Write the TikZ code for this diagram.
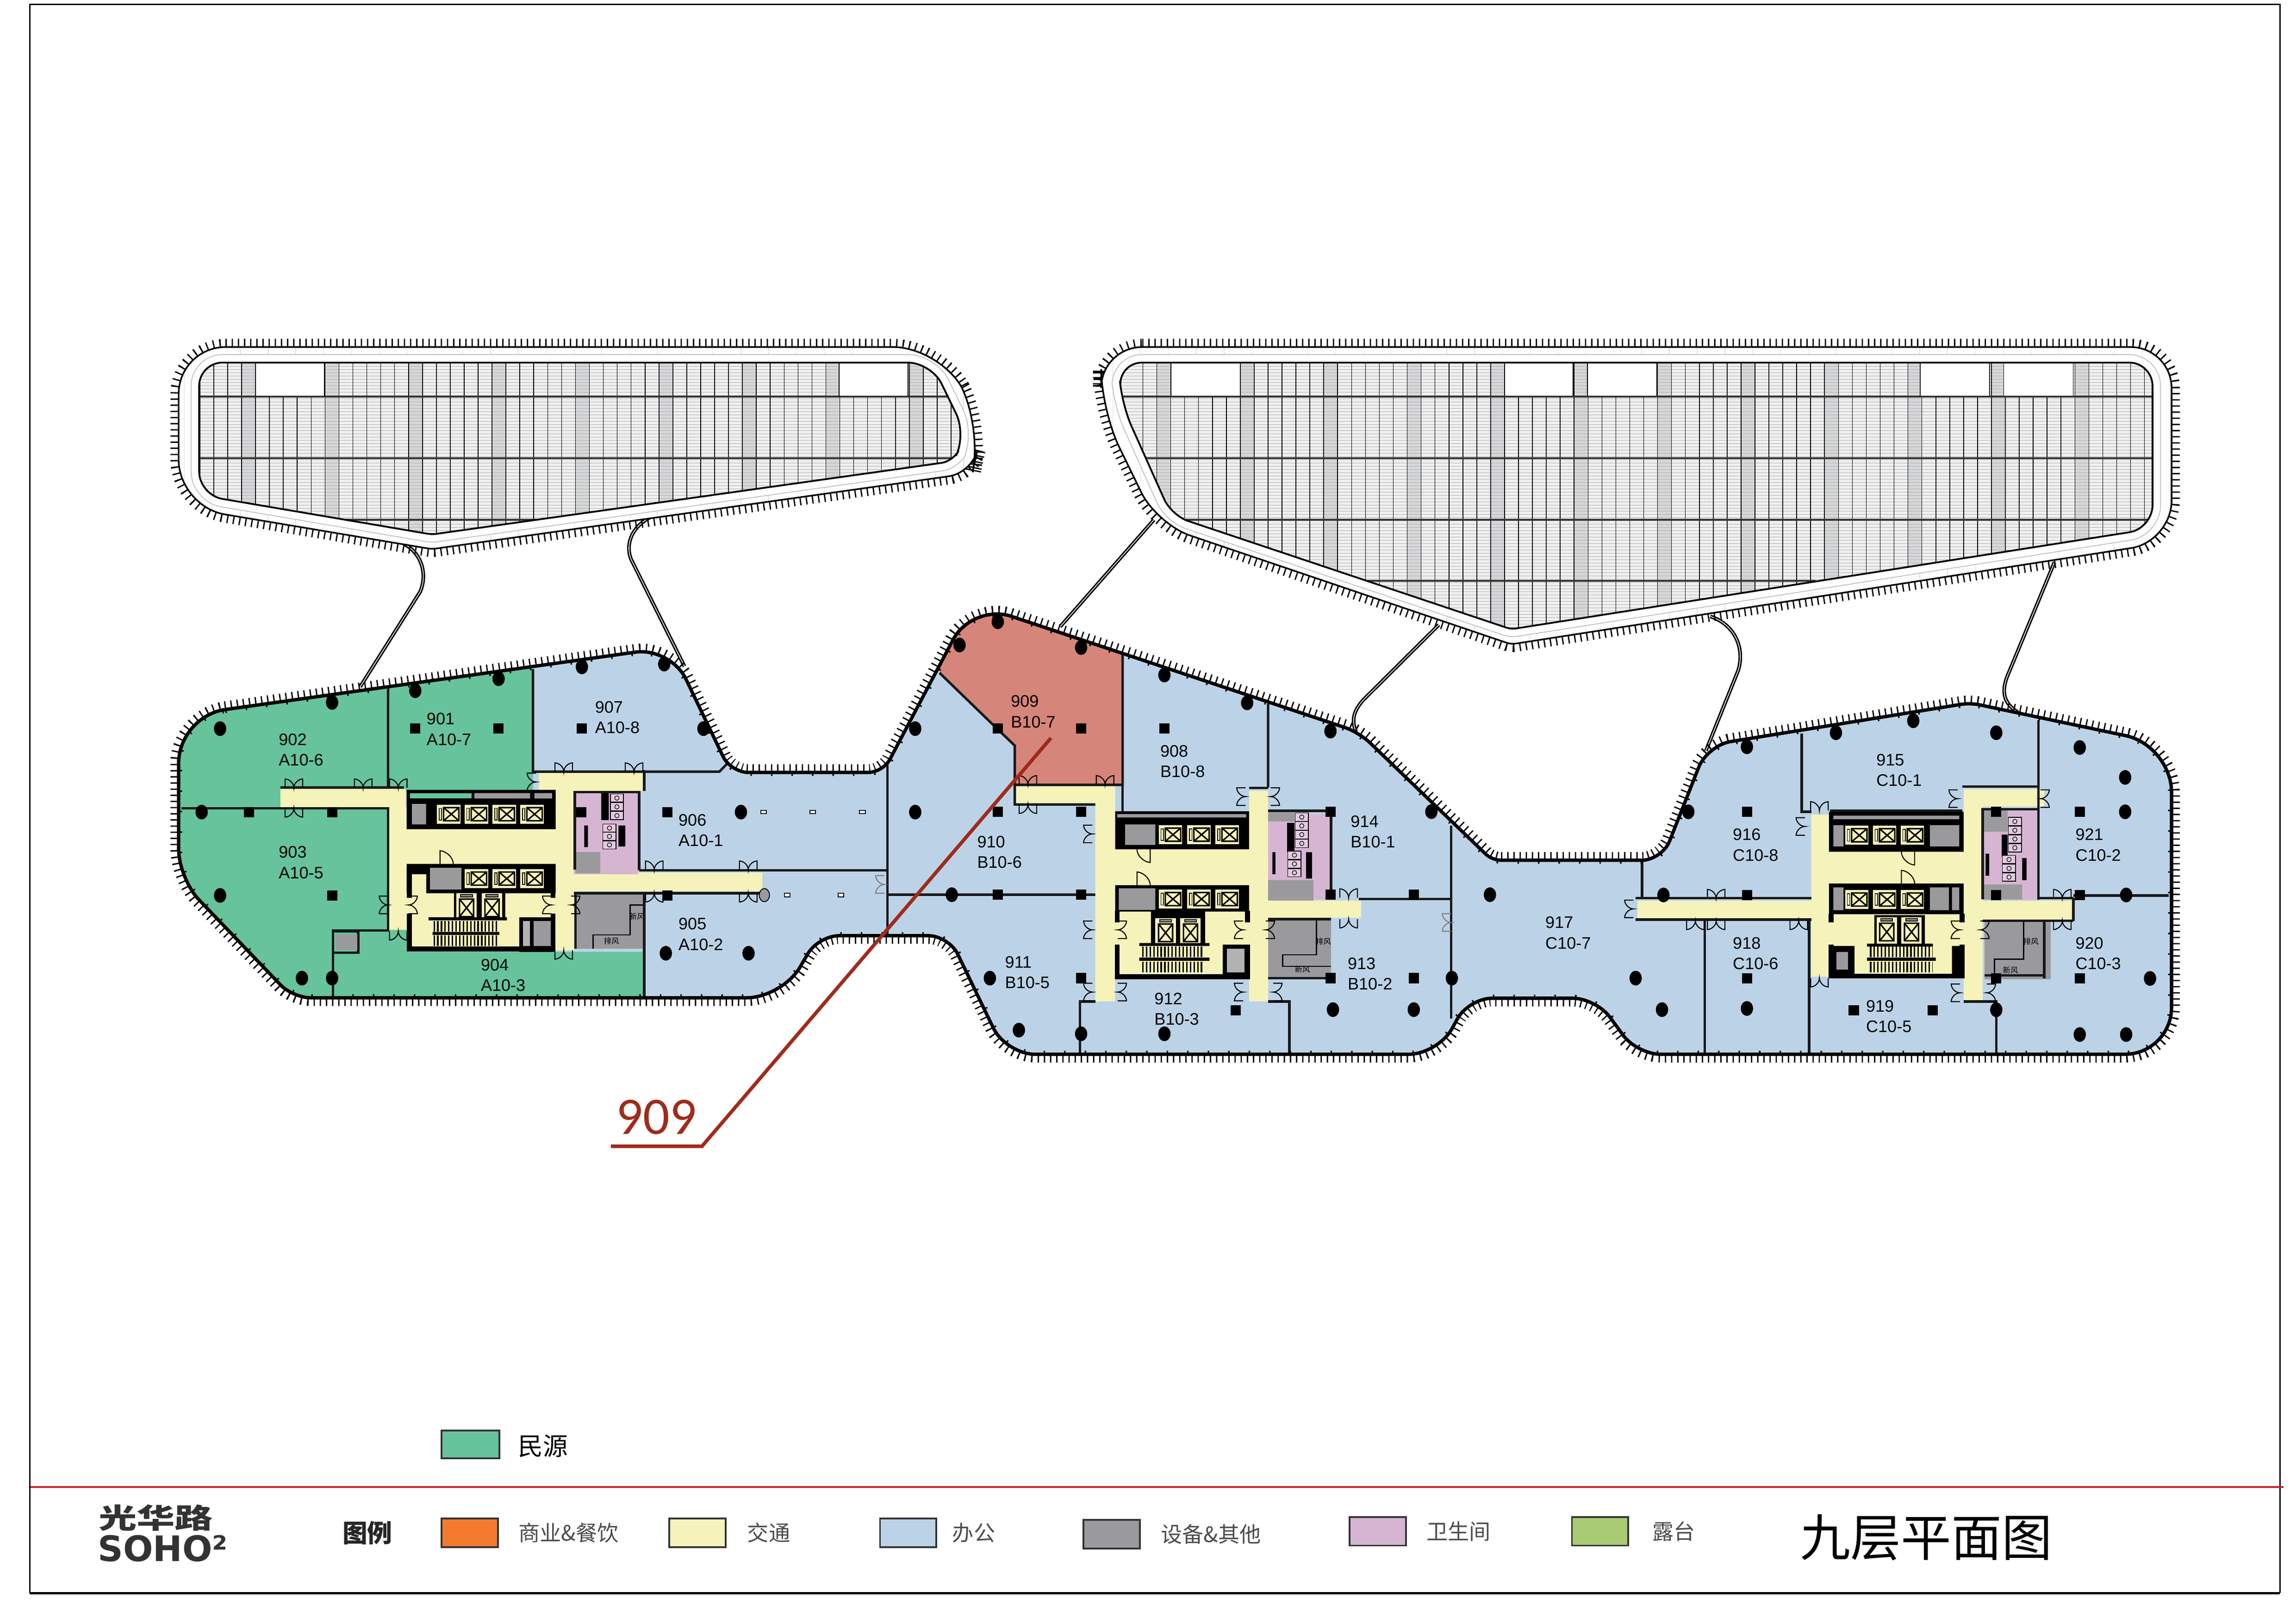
\documentclass[tikz,border=0pt]{standalone}
\usepackage{fontspec}
\setmainfont{Liberation Sans}
\newfontfamily\cjk{Noto Sans CJK SC}
\newfontfamily\leaderfont{Carlito}
\newfontfamily\logofont{DejaVu Sans}

\definecolor{officeblue}{HTML}{BCD3E7}
\definecolor{tenantgreen}{HTML}{66C39B}
\definecolor{soldred}{HTML}{D6857A}
\definecolor{transityellow}{HTML}{F5F3BA}
\definecolor{wcpurple}{HTML}{D6B5D3}
\definecolor{servicegray}{HTML}{9A9A9D}
\definecolor{shopgreen}{HTML}{A9CB74}
\definecolor{shoporange}{HTML}{F47B2E}
\definecolor{leaderred}{HTML}{A02B1A}
\definecolor{rulered}{HTML}{C8202F}
\definecolor{stripgray}{HTML}{D6D7D9}
\definecolor{hatchgray}{HTML}{F0F0F0}

% Outline of the three joined wings
\newcommand{\planoutline}{[rounded corners=16pt] (122,489) [rounded corners=12pt] -- (458,442) [rounded corners=6pt] -- (499,527.5) [rounded corners=5pt] -- (603,527.5) [rounded corners=14pt] -- (664,412) [rounded corners=5pt] -- (928,500) [rounded corners=3pt] -- (1019,587.5) [rounded corners=7pt] -- (1135,587.5) [rounded corners=8pt] -- (1166,509) [rounded corners=3pt] -- (1345.5,480) [rounded corners=16pt] -- (1483,509) -- (1483,720) [rounded corners=8pt] -- (1118,720) -- (1090,681.7) -- (1003,681.7) [rounded corners=10pt] -- (982,720) -- (687,720) [rounded corners=7pt] -- (648,639) -- (559,639) [rounded corners=12pt] -- (534,681.4) [rounded corners=6pt] -- (200,681.4) [rounded corners=10pt] -- (122,600) [rounded corners=16pt] -- cycle}
% Roof decks
\newcommand{\deckwestouter}{[rounded corners=16pt] (122,237) -- (642,237) -- (671,291) [rounded corners=8pt] -- (664,323) [rounded corners=1.5pt] -- (295,375) [rounded corners=16pt] -- (122,346) -- cycle}
\newcommand{\deckwestinner}{[rounded corners=8pt] (136,247.6) -- (636,247.6) -- (660,297) [rounded corners=4pt] -- (651,315) [rounded corners=1.5pt] -- (295,365) [rounded corners=8pt] -- (136,338) -- cycle}
\newcommand{\deckeastouter}{[rounded corners=14pt] (752,237) -- (1483,237) -- (1483,370) [rounded corners=1.5pt] -- (1032,440) [rounded corners=12pt] -- (790,358) [rounded corners=14pt] -- (752,280) -- cycle}
\newcommand{\deckeastinner}{[rounded corners=8pt] (764,247.6) -- (1470,247.6) -- (1470,361) [rounded corners=1.5pt] -- (1032,429.7) [rounded corners=6pt] -- (800,352) [rounded corners=8pt] -- (766,276) -- cycle}

\tikzset{
    eaveticks/.style={line width=5.6pt, dash pattern=on .45pt off 1.65pt},
    eavemarks/.style={line width=2.4pt, dash pattern=on .5pt off 6.5pt},
    roomwall/.style={line width=.85pt, black!90},
    corewall/.style={line width=1.7pt},
    bridge/.style={line width=.5pt, double=white, double distance=.25pt},
    stairhatch/.style={line width=3.6pt, dash pattern=on .5pt off .75pt},
    leader/.style={leaderred, line width=1.2pt},
    roomtag/.style={anchor=west, align=left, inner sep=0pt, font=\fontsize{5.7}{7}\selectfont},
    legendtext/.style={anchor=west, inner sep=0pt, text=black!70, font=\cjk\fontsize{7.3}{9}\selectfont},
    tinytag/.style={inner sep=0pt, font=\cjk\fontsize{2.6}{3}\selectfont},
    swatch/.style={draw=black!80, line width=.6pt},
    liftcar/.pic={
        \fill[transityellow] (-8,-6.5) rectangle (8,6.5);
        \draw[line width=.5pt] (-3.5,-4.5) rectangle (7,4.5) (-3.5,-4.5) -- (7,4.5) (-3.5,4.5) -- (7,-4.5);
        \draw[line width=.25pt] (-6.5,-4) rectangle (-4.8,4);
    },
    freightcar/.pic={
        \fill[transityellow] (-7,-9) rectangle (7,9);
        \draw[line width=.5pt] (-4.8,-5) rectangle (4.8,7) (-4.8,-5) -- (4.8,7) (-4.8,7) -- (4.8,-5);
        \draw[line width=.3pt, fill=servicegray] (-4,-8) rectangle (4,-6.5);
    },
    wcstall/.pic={
        \draw[line width=.25pt, fill=wcpurple!70] (-4.5,-2.8) rectangle (4.5,2.8);
        \draw[line width=.2pt] (0,0) circle (1.5);
    },
    twindoor/.pic={
        \draw[line width=.35pt] (-6,0) -- (-6,-6) .. controls (-3,-6) and (0,-3) .. (0,0) .. controls (0,-3) and (3,-6) .. (6,-6) -- (6,0);
    },
    onedoor/.pic={
        \draw[line width=.35pt] (-4.5,0) -- (-4.5,-9) .. controls (-1,-9) and (4.5,-5) .. (4.5,0);
    },
}

\begin{document}
\begin{tikzpicture}[x=.5pt, y=-.5pt]
    \useasboundingbox (0,0) rectangle (1568,1108.8);

    % Frame and rule
    \draw[line width=.5pt] (1557,1088) -- (1557,3) -- (20.3,3) -- (20.3,1088);
    \draw[line width=.8pt] (20.3,1088) -- (1557,1088);
    \draw[rulered, line width=.5pt] (21,1015.5) -- (1559.5,1015.5);

    % Bridges from the decks down to the wings
    \draw[bridge] (276,371.5) .. controls (288,378) and (292,392) .. (287,404) -- (246,469);
    \draw[bridge] (444.5,353) .. controls (431,360) and (427,372) .. (431,382) -- (467.4,455);
    \draw[bridge] (788,355) -- (724,428);
    \draw[bridge] (982.6,426.7) -- (931,478) .. controls (924,486) and (923,492) .. (926,499.7);
    \draw[bridge] (1168,421) .. controls (1184,426) and (1192,442) .. (1187,458) -- (1165,512.7);
    \draw[bridge] (1403,384) -- (1372.3,458.3) .. controls (1366,472) and (1368,480) .. (1378,486.4);

    % West deck
    \draw[eaveticks] \deckwestouter;
    \fill[white] \deckwestouter;
    \begin{scope}
        \clip \deckwestouter;
        \foreach \x in {126,145,...,670}
            \draw[black!12, line width=.2pt] (\x,230) -- (\x,380);
    \end{scope}
    \draw[line width=.55pt] \deckwestouter;
    \draw[black!22, line width=5.8pt] \deckwestinner;
    \draw[white, line width=5.1pt] \deckwestinner;
    \begin{scope}
        \clip \deckwestinner;
        \fill[hatchgray] (130,240) rectangle (665,370);
        \foreach \x in {165,222,...,621}
            \fill[stripgray] (\x,240) rectangle (\x+9.5,370);
        \foreach \y in {248,250.2,...,368}
            \draw[black!32, line width=.12pt] (130,\y) -- (665,\y);
        \foreach \x in {136.5,146,...,660}
            \draw[line width=.25pt] (\x,240) -- (\x,370);
        \fill[white] (174.5,240) rectangle (221.6,270.9) (572.9,240) rectangle (620,270.9);
        \draw[black!80, line width=.65pt] (130,270.9) -- (665,270.9) (130,313) -- (665,313) (234,354.8) -- (368,354.8);
        \draw[line width=.3pt] (174.5,240) -- (174.5,270.9) (221.6,240) -- (221.6,270.9) (572.9,240) -- (572.9,270.9) (620,240) -- (620,270.9);
    \end{scope}
    \draw[line width=.6pt] \deckwestinner;

    % East deck
    \draw[eaveticks] \deckeastouter;
    \fill[white] \deckeastouter;
    \begin{scope}
        \clip \deckeastouter;
        \foreach \x in {760,779,...,1480}
            \draw[black!12, line width=.2pt] (\x,230) -- (\x,445);
    \end{scope}
    \draw[line width=.55pt] \deckeastouter;
    \draw[black!22, line width=5.8pt] \deckeastinner;
    \draw[white, line width=5.1pt] \deckeastinner;
    \begin{scope}
        \clip \deckeastinner;
        \fill[hatchgray] (760,240) rectangle (1475,435);
        \foreach \x in {790,847,...,1417}
            \fill[stripgray] (\x,240) rectangle (\x+9.5,435);
        \foreach \y in {248,250.2,...,432}
            \draw[black!32, line width=.12pt] (760,\y) -- (1475,\y);
        \foreach \x in {780.5,790,...,1470}
            \draw[line width=.25pt] (\x,240) -- (\x,435);
        \foreach \x/\w in {799.6/847, 1027.4/1074.4, 1084/1131.4, 1311.3/1358.8, 1368.4/1415.8} {
            \fill[white] (\x,240) rectangle (\w,270.9);
            \draw[line width=.3pt] (\x,240) -- (\x,270.9) (\w,240) -- (\w,270.9);
        }
        \draw[black!80, line width=.65pt] (760,270.9) -- (1475,270.9) (760,313) -- (1475,313) (760,354.8) -- (1475,354.8) (932,396.6) -- (1240,396.6);
    \end{scope}
    \draw[line width=.6pt] \deckeastinner;

    % Floor fill with let areas
    \draw[eaveticks] \planoutline;
    \fill[officeblue] \planoutline;
    \begin{scope}
        \clip \planoutline;
        \fill[tenantgreen] (100,430) rectangle (364,540) (100,540) rectangle (265,690) (227,635) rectangle (279,690) (227,650) rectangle (440,690);
        \fill[soldred] (641.6,459.5) -- (677.6,494.4) -- (693,509.2) -- (693,536) -- (766.7,536) -- (766.7,400) -- (620,400) -- cycle;
    \end{scope}

    % Corridors and lobbies
    \fill[transityellow] (191.5,538.7) rectangle (277,551.2) (265,551) rectangle (279,635) (277,565.5) rectangle (392,590.4) (378,540) rectangle (392,649) (368,527) rectangle (440,540) (392,596) rectangle (520.5,608.6) (279,590) rectangle (378,648);
    \fill[transityellow] (693,536.8) rectangle (761.6,549.4) (748,537) rectangle (761.6,683.8) (853,540) rectangle (866,683.8) (761.6,580) rectangle (866,604.5) (761.6,622) rectangle (853,665) (866,615) rectangle (929.5,626.7);
    \fill[transityellow] (1118.3,615.2) rectangle (1237,628.8) (1237,556.3) rectangle (1249,667) (1249,581.7) rectangle (1341,603.4) (1341,539) rectangle (1354,684) (1341,539) rectangle (1396,550.8) (1354,615.2) rectangle (1416,628.8) (1249,624) rectangle (1341,665);

    % Core A
    \fill (277.7,539.4) rectangle (379.5,566.3) (277.7,590) rectangle (379.5,610) (310,610) rectangle (345,627);
    \fill[tenantgreen] (280,541.6) rectangle (322,545.3);
    \fill[servicegray] (324,541.6) rectangle (362,545.3) (365,541.6) rectangle (377,545.3) (281.3,549) rectangle (291,563);
    \fill[servicegray] (293.5,592.7) rectangle (315,607.4);
    \fill[transityellow] (281.3,597) rectangle (291,610.5);
    \foreach \x in {306.4,325.3,344.3,363.3}
        \pic at (\x,556) {liftcar};
    \foreach \x in {325.3,344.3,363.3}
        \pic at (\x,600) {liftcar};
    \foreach \x in {318.6,336}
        \pic at (\x,619) {freightcar};
    \draw[corewall] (279.5,608) -- (279.5,613) (279.5,624) -- (279.5,648) -- (377.7,648) -- (377.7,624) (377.7,608) -- (377.7,613);
    \fill (292.6,626.4) rectangle (346.2,628.5) (295.4,636.4) rectangle (341,638.5);
    \draw[stairhatch] (296,632.5) -- (341,632.5) (296,642.3) -- (340,642.3);
    \fill (354.7,626.4) rectangle (378.4,650);
    \fill[servicegray] (364.3,629) rectangle (376,646);
    \fill[black!30] (357,629) rectangle (362,646);
    % Toilets and plant A
    \fill[wcpurple] (392,541.6) rectangle (436,597);
    \fill[servicegray] (393,582) rectangle (410,596.4);
    \fill (410.6,541.6) rectangle (415.7,560) (422.4,563.7) rectangle (427,578) (399,563.7) rectangle (401.5,578.5);
    \foreach \y in {545,551,557} \pic at (421.3,\y) {wcstall};
    \foreach \y in {565.5,571.2,577} \pic at (416.2,\y) {wcstall};
    \draw[roomwall] (392.5,594) -- (392.5,541) -- (436.5,541) -- (436.5,594.3);
    \fill[servicegray] (393,610) rectangle (439.4,648);
    \draw[roomwall] (393,648) -- (393,610) -- (440,610);
    \draw[line width=.4pt] (405,648) -- (405,638.5) -- (430.3,638.5) -- (430.3,618) -- (439.4,618);
    \node[tinytag] (freshA) at (435,626) {新风};
    \node[tinytag] (exhaustA) at (417.6,642.5) {排风};

    % Core B
    \fill (761.6,554) rectangle (853,580) (761.6,604.5) rectangle (853,622.5) (786,622) rectangle (823,645);
    \fill[servicegray] (763,556) rectangle (851,558.3) (768.4,563) rectangle (789,577) (764,606.6) rectangle (789,621.4);
    \foreach \x in {799.3,818.8,838} {
        \pic at (\x,570) {liftcar};
        \pic at (\x,614) {liftcar};
    }
    \foreach \x in {796,813}
        \pic at (\x,636) {freightcar};
    \draw[corewall] (763,622) -- (763,630) (763,645) -- (763,667) -- (852,667) -- (852,645) (852,622) -- (852,630);
    \fill (778,644) rectangle (826,646) (778,654) rectangle (826,656.2);
    \draw[stairhatch] (780,650) -- (822,650) (780,660.5) -- (822,660.5);
    \fill (835,645) rectangle (853,667);
    \fill[black!30] (838,648) rectangle (850,664);
    % Toilets and plant B
    \fill[wcpurple] (866,556) rectangle (909,614);
    \fill[servicegray] (866,555) rectangle (884,561) (866,601) rectangle (897,615);
    \fill (879,562) rectangle (884,582) (892,582) rectangle (896,600) (869,582) rectangle (871,597);
    \foreach \y in {558,564,570,576} \pic at (889,\y) {wcstall};
    \foreach \y in {584,590,596} \pic at (884,\y) {wcstall};
    \draw[roomwall] (866,553.7) -- (909,553.7) -- (909,614);
    \fill[servicegray] (866,627.7) rectangle (909,668);
    \draw[roomwall] (866,627.7) -- (909,627.7) (866,668) -- (909,668);
    \draw[line width=.4pt] (909,660) -- (876,660) -- (876,652) -- (899,652) -- (899,627.7);
    \node[tinytag] (exhaustB) at (903.8,643) {排风};
    \node[tinytag] (freshB) at (889.4,662) {新风};

    % Core C
    \fill (1249,554.4) rectangle (1341,581.7) (1249,603.4) rectangle (1341,624.3) (1280,625) rectangle (1314.5,645);
    \fill[servicegray] (1252,557) rectangle (1338,559.5) (1318,563.5) rectangle (1338,578) (1252,563.5) rectangle (1259,578) (1318,606) rectangle (1331,621.6) (1333,606) rectangle (1338,621.6) (1252,606) rectangle (1259,621.6);
    \foreach \x in {1268,1287,1306} {
        \pic at (\x,570.4) {liftcar};
        \pic at (\x,614.3) {liftcar};
    }
    \foreach \x in {1288.5,1305.4}
        \pic at (\x,635.5) {freightcar};
    \draw[corewall] (1250.5,624) -- (1250.5,630) (1250.5,645) -- (1250.5,666.6) -- (1340,666.6) -- (1340,645) (1340,624) -- (1340,630);
    \fill (1275,644.5) rectangle (1320,646.5) (1275,654) rectangle (1322,656.2);
    \draw[stairhatch] (1277,650) -- (1320,650) (1277,660.5) -- (1320,660.5);
    \fill (1251,646) rectangle (1266.5,665) (1333,646) rectangle (1340,665);
    \fill[servicegray] (1254,650) rectangle (1262,662);
    % Toilets and plant C
    \fill[wcpurple] (1354,552.6) rectangle (1392,614.3);
    \fill[servicegray] (1354,552.6) rectangle (1371,568) (1354,604) rectangle (1381,614.3);
    \fill (1367,570) rectangle (1371,585) (1381,586) rectangle (1384,601) (1356,583) rectangle (1358.5,598);
    \foreach \y in {561,567,573,579} \pic at (1376,\y) {wcstall};
    \foreach \y in {587,593,599} \pic at (1372,\y) {wcstall};
    \draw[roomwall] (1354,614) -- (1354,552.6) -- (1392,552.6);
    \fill[servicegray] (1355.4,628.8) rectangle (1400.6,668.7);
    \draw[roomwall] (1355.4,628.8) -- (1396,628.8) (1396,628.8) -- (1396,668) (1355.4,666) -- (1396,666);
    \draw[line width=.4pt] (1362,666) -- (1362,655) -- (1382,655) -- (1382,628.8);
    \node[tinytag] (exhaustC) at (1387,643) {排风};
    \node[tinytag] (freshC) at (1373,662.4) {新风};

    % Partitions, wing A
    \draw[roomwall] (265,470.7) -- (265,537.8) (191.5,537.8) -- (275.8,537.8) (364,457) -- (364,527) -- (491.3,527) -- (496.6,521.5);
    \draw[roomwall] (124,552) -- (265,552) -- (265,635.4) -- (227.4,635.4) -- (227.4,681) (227.4,636) rectangle (244.6,650.7);
    \fill[servicegray] (229,638) rectangle (244,649);
    \draw[roomwall] (440,610.5) -- (440,681.4) (440,594.3) -- (606,594.3) (606,522) -- (606,639) (440,526) -- (440,540) (436.5,594.3) -- (440,594.3) (392,610) -- (520,610);
    % Partitions, wing B
    \draw[roomwall] (606,611) -- (748,611) (641.6,459.5) -- (677.6,494.4) -- (693,509.2) -- (693,549.4) -- (748,549.4) (693,536) -- (766.7,536) -- (766.7,447) (866,480.7) -- (866,537.8);
    \draw[roomwall] (748,684) -- (737.6,684) -- (737.6,720) (866,684) -- (880.5,684) -- (880.5,720) (928,614) -- (991,614) (991,564) -- (991,695.5) (1121.4,588.6) -- (1121.4,613);
    \draw[roomwall] (766.7,536) -- (766.7,554) (853,538) -- (866,538);
    % Partitions, wing C
    \draw[roomwall] (1230.4,500.9) -- (1230.4,554.4) -- (1237,554.4) (1392,491.9) -- (1392,614.3) (1340,537.2) -- (1392,537.2) (1249.6,553.5) -- (1340,553.5);
    \draw[roomwall] (1117,613.4) -- (1237,613.4) (1117,628) -- (1237,628) (1164.3,628) -- (1164.3,720) (1235.5,628) -- (1235.5,720) (1341,684) -- (1363.3,684) -- (1363.3,720) (1416,611.6) -- (1481,611.6) (1416,613) -- (1416,629) (1354,628.8) -- (1416,628.8) (1392,613.4) -- (1416,613.4);

    % Perimeter
    \begin{scope}
        \clip \planoutline;
        \draw[eavemarks] \planoutline;
    \end{scope}
    \draw[line width=1.15pt] \planoutline;

    % Round columns
    \foreach \x/\y in {150.3/497.6, 226.8/479.7, 283.6/471.7, 340.5/463.5, 397.4/455.4, 453.6/453.5, 480.4/497.6, 137.7/554.6, 150.3/611.5, 206.2/668, 226.8/668, 506/554.6, 625/554.6, 625/497.6, 454.7/651, 511.2/651,
        681.4/424.6, 655.3/440.5, 738.3/442.2, 795.2/461, 851.7/480, 908.6/499.3, 977.5/554.3, 650/611, 676/668, 695.8/703.5, 738.3/706, 795.2/706, 910.3/689.5, 965.5/689.5, 991.5/668, 1017.5/611, 1117/668, 1135/689.5,
        1193/510, 1253.8/500.4, 1306.6/492.2, 1363.3/500.4, 1420.3/510.5, 1451.3/530.9, 1153/554.4, 1451.3/554.4, 1136/611.2, 1452/611.2, 1193/688.7, 1468.3/668.2, 1363.3/689.6, 1420.3/706.5, 1452/706.5}
        \fill (\x,\y) ellipse [x radius=4.2, y radius=5];
    % Square columns
    \foreach \x/\y in {283.6/497.6, 340.5/497.6, 397.4/497.6, 170/554.6, 226.8/554.6, 226.8/611.5, 397/554.6, 455.7/554.6, 455.7/611.5,
        681.4/497.6, 738.3/497.6, 795.2/497.6, 681.4/554.3, 738.3/554.3, 908.6/554.3, 681.4/611, 738.3/611, 908.6/611, 965.5/611, 738.3/668, 908.6/668, 965.5/668, 844/690,
        1193/554.4, 1420.3/554.4, 1193/611.2, 1420.3/611.2, 1363.3/554.4, 1363.3/611.2, 1193/668.2, 1363.3/668.2, 1420.3/668.2, 1266/690, 1319.8/690}
        \fill (\x-3.5,\y-3.5) rectangle (\x+3.5,\y+3.5);
    % Small sockets
    \foreach \x/\y in {521.5/554.5, 555/554.5, 589/554.5, 537.6/611.3, 574.3/611.3}
        \draw[line width=.3pt, fill=white] (\x-2,\y-1.2) rectangle (\x+2,\y+1.2);
    \draw[line width=.3pt, fill=servicegray] (522,611.3) ellipse [x radius=3.5, y radius=4.5];

    % Double doors
    \foreach \x/\y in {200.7/538, 248/538, 272/538, 385/527, 433/527, 446.8/594, 511/594, 702/535.7, 754.7/535.7, 921/613, 1242.5/553.5, 1172/613.4, 1408.4/613.4}
        \pic at (\x,\y) {twindoor};
    \foreach \x/\y in {200.7/552, 446.8/610, 511/610, 272/636, 385/649, 702/549.5, 921/627.7, 1157.8/628.8, 1172/628.8, 1228.4/628.8, 1242.5/668, 1408.4/628.8}
        \pic[rotate=180] at (\x,\y) {twindoor};
    \foreach \x/\y in {265/618, 376.5/618, 366/534, 746/569.5, 746/635, 746/677.5, 850.6/544, 849/635, 849/677.5, 1232.6/564.4, 1115.5/620.7, 1337/545.4, 1338.5/635, 1338.5/678}
        \pic[rotate=90] at (\x,\y) {twindoor};
    \foreach \x/\y in {279/618, 390/618, 763.3/635, 763.3/677.5, 867.8/544, 864.4/635, 869.5/677.5, 1393.5/545.4, 1352.4/635, 1356.8/678}
        \pic[rotate=-90] at (\x,\y) {twindoor};
    \pic[color=gray, rotate=90] at (604,604) {twindoor};
    \pic[color=gray, rotate=90] at (991,630) {twindoor};
    % Single doors
    \foreach \x/\y in {305/590, 781/604.5, 1303/603.4}
        \pic at (\x,\y) {onedoor};
    \foreach \x/\y in {781/580, 1303/581.7}
        \pic[rotate=180] at (\x,\y) {onedoor};

    % Room tags
    \foreach \num/\code/\x/\y in {902/A10-6/190/512, 901/A10-7/291/498, 903/A10-5/190/589, 904/A10-3/328/666, 905/A10-2/463/638, 906/A10-1/463/567, 907/A10-8/406/490,
        908/B10-8/792/520, 909/B10-7/690/486, 910/B10-6/667/582, 911/B10-5/686/664, 912/B10-3/788/689, 913/B10-2/920/665, 914/B10-1/922/568,
        915/C10-1/1281/526, 916/C10-8/1183/577, 917/C10-7/1055/637, 918/C10-6/1183/651, 919/C10-5/1274/694, 920/C10-3/1417/651, 921/C10-2/1417/577}
        \node[roomtag] (room\num) at (\x,\y) {\num\\\code};

    % Leader to the marked unit
    \coordinate (leadtip) at (717.7,504);
    \coordinate (leadknee) at (479.4,782.8);
    \coordinate (leadend) at (417.2,782.8);
    \draw[leader] (leadtip) -- (leadknee) -- (leadend);
    \node[anchor=south west, inner sep=0pt, text=leaderred, font=\leaderfont\fontsize{18}{20}\selectfont] (tagunit) at (420.5,775) {909};

    % Legend
    \fill[tenantgreen] (301.5,977) rectangle (341,996);
    \draw[swatch] (301.5,977) rectangle (341,996);
    \node[legendtext, text=black, font=\cjk\fontsize{8.5}{9}\selectfont] (legtenant) at (353.5,987.6) {民源};
    \node[legendtext, text=black!85, font=\cjk\bfseries\fontsize{8.5}{9}\selectfont] (legtitle) at (233.5,1046.7) {图例};
    \foreach \nm/\x/\y/\col/\tx/\txt in {shop/301.5/1037/shoporange/353.7/商业\&餐饮, transit/457/1037/transityellow/510/交通, office/601/1037/officeblue/650/办公, service/740/1038/servicegray/792.4/设备\&其他, wc/921.7/1036/wcpurple/973.7/卫生间, deck/1073.5/1036/shopgreen/1128/露台} {
        \fill[\col] (\x,\y) rectangle (\x+38.5,\y+19.5);
        \draw[swatch] (\x,\y) rectangle (\x+38.5,\y+19.5);
        \node[legendtext] (leg\nm) at (\tx,\y+9.7) {\txt};
    }

    % Logo and title
    \node[anchor=west, inner sep=0pt, text=black!80, font=\cjk\bfseries\fontsize{9.5}{10}\selectfont] (logotop) at (67,1036.5) {\scalebox{1.37}[1]{光华路}};
    \node[anchor=west, inner sep=0pt, text=black!80, font=\logofont\bfseries\fontsize{12}{12}\selectfont] (logosoho) at (66.5,1057.5) {SOHO²};
    \node[anchor=west, inner sep=0pt, font=\cjk\fontsize{17.2}{18}\selectfont] (sheettitle) at (1229,1050) {九层平面图};
\end{tikzpicture}
\end{document}
